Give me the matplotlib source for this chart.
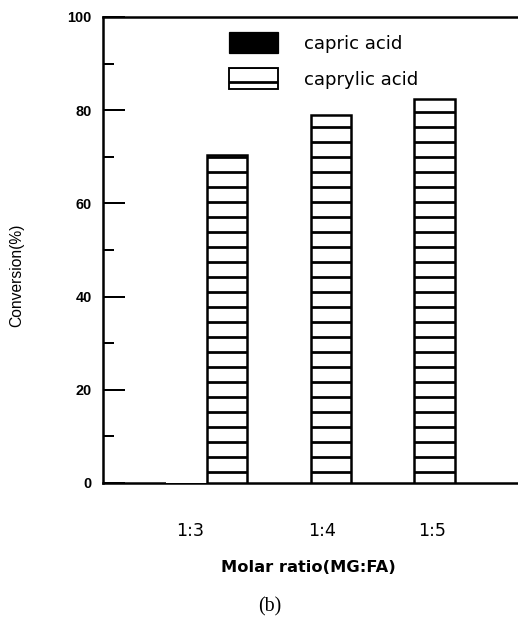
import matplotlib
matplotlib.use("Agg")
import matplotlib.pyplot as plt
from matplotlib.patches import Patch
from matplotlib.ticker import MultipleLocator

# ---------- DATA ----------
ratios = ["1:3", "1:4", "1:5"]
capric = [35, 0, 0]          # lost in the scan, only a ghost bar at 1:3
caprylic = [70.4, 79.0, 82.4]
series_names = ["capric acid", "caprylic acid"]

# ---------- LAYOUT ----------
DPI = 90
W, H = 518, 620
BAR_W = 0.39
tick_shift = [-0.16, 0.11, 0.17]   # labels sit a bit off the bar pairs

plt.rcParams["font.family"] = ["Liberation Sans", "DejaVu Sans"]
plt.rcParams["hatch.linewidth"] = 2.2

fig = plt.figure(figsize=(W / DPI, H / DPI), dpi=DPI)
ax = fig.add_axes([103 / W, (H - 483) / H, (W - 103) / W, 466 / H])

x = list(range(len(ratios)))

# capric bars: white ghosts (they cover the bottom axis like in the scan)
ax.bar([i - BAR_W / 2 for i in x], capric, width=BAR_W,
       color="white", edgecolor="none", zorder=3)
# caprylic bars: horizontal stripes
ax.bar([i + BAR_W / 2 for i in x], caprylic, width=BAR_W,
       color="white", edgecolor="black", hatch="-", linewidth=2.0, zorder=4)

ax.set_xlim(-1, 3)
ax.set_ylim(0, 100)

ax.yaxis.set_major_locator(MultipleLocator(20))
ax.yaxis.set_minor_locator(MultipleLocator(10))
ax.tick_params(axis="y", which="major", direction="in", length=17.5, width=1.6,
               pad=9, labelsize=11.5)
ax.tick_params(axis="y", which="minor", direction="in", length=8.8, width=1.6)
for lbl in ax.get_yticklabels():
    lbl.set_fontweight("bold")

ax.set_xticks([i + s for i, s in zip(x, tick_shift)])
ax.set_xticklabels(ratios, fontsize=14, family="DejaVu Sans")
ax.tick_params(axis="x", length=0, pad=31)

for side in ["left", "bottom", "top"]:
    ax.spines[side].set_linewidth(2.0)
ax.spines["right"].set_visible(False)

ax.set_xlabel("Molar ratio(MG:FA)", fontsize=13, fontweight="bold",
              family="DejaVu Sans")
ax.xaxis.set_label_coords(0.495, -0.165)
ax.set_ylabel("Conversion(%)", fontsize=12.5)
ax.yaxis.set_label_coords(-0.19, 0.445)

handles = [
    Patch(facecolor="black", edgecolor="black"),
    Patch(facecolor="white", edgecolor="black", hatch="-", linewidth=1.5),
]
ax.legend(handles, series_names, loc="upper left",
          bbox_to_anchor=(0.3036, 0.968), frameon=False, borderpad=0,
          borderaxespad=0, handlelength=2.7, handleheight=1.45,
          handletextpad=1.45, labelspacing=0.8,
          prop={"family": "DejaVu Sans", "size": 14.5})

fig.text(270 / W, 1 - 607 / H, "(b)", fontsize=16,
         family=["Liberation Serif", "DejaVu Serif"], ha="center", va="center")

fig.savefig("out.png", dpi=DPI)
